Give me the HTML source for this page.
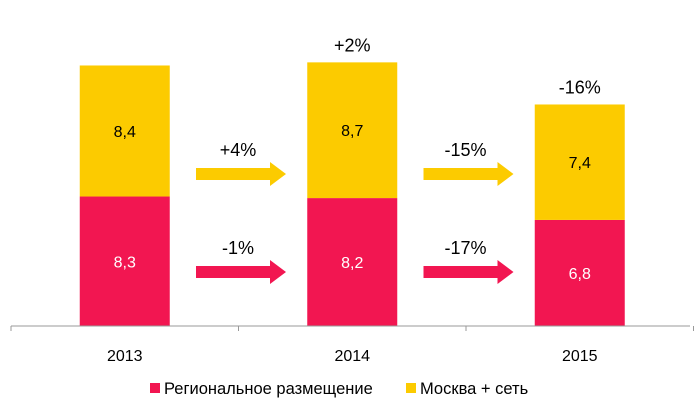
<!DOCTYPE html>
<html><head><meta charset="utf-8"><style>
body{margin:0;background:#fff;}
svg text{font-family:"Liberation Sans",sans-serif;}
</style></head><body>
<svg width="700" height="412">
<g id="g"></g>
</svg>
<script>
const categories=["2013","2014","2015"];
const regional=[8.3,8.2,6.8];
const moscow=[8.4,8.7,7.4];
const totalChange=["","+2%","-16%"];
const moscowChange=["+4%","-15%"];
const regionalChange=["-1%","-17%"];
const NS="http://www.w3.org/2000/svg";
const g=document.getElementById('g');
const base=326,unit=15.6,left=11,catW=227.5,barW=90;
function y(v){return base-v*unit;}
function cx(i){return left+catW*i+catW/2;}
function mk(t,a,p){const e=document.createElementNS(NS,t);for(const k in a)e.setAttribute(k,a[k]);(p||g).appendChild(e);return e;}
function txt(x,yy,s,size,fill){const e=mk('text',{x:x,y:yy,'text-anchor':'middle','font-size':size,fill:fill});e.textContent=s;return e;}
categories.forEach((c,i)=>{
 const x=cx(i)-barW/2;
 const r=mk('rect',{x:x,y:y(regional[i]),width:barW,height:regional[i]*unit,fill:'#f21651'});
 
 
 const m=mk('rect',{x:x,y:y(regional[i]+moscow[i]),width:barW,height:moscow[i]*unit,fill:'#fccb00'});
 
 
 const t1=txt(cx(i),y(regional[i]/2)+6,String(regional[i]).replace('.',','),16,'#fff');
 
 
 const t2=txt(cx(i),y(regional[i]+moscow[i]/2)+6,String(moscow[i]).replace('.',','),16,'#000');
 
 
 const cl=txt(cx(i),361,c,16,'#000');
 
 
 if(totalChange[i]){const tc=txt(cx(i),y(regional[i]+moscow[i])-11,totalChange[i],18,'#000');
 
 }
});
mk('line',{x1:left,y1:base,x2:690,y2:base,stroke:'#999'});
for(let i=0;i<=3;i++)mk('line',{x1:left+catW*i,y1:base,x2:left+catW*i,y2:base+5,stroke:'#999'});
function arrow(x0,yc,col,lab,name){
 const p=mk('path',{d:`M${x0} ${yc-6}H${x0+74}V${yc-12}L${x0+90} ${yc}L${x0+74} ${yc+12}V${yc+6}H${x0}Z`,fill:col});
 
 
 const t=txt(x0+42,yc-18,lab,18,'#000');
 
 
}
moscowChange.forEach((l,i)=>arrow(196+catW*i,174,'#fccb00',l,'moscow-change-'+i));
regionalChange.forEach((l,i)=>arrow(196+catW*i,272,'#f21651',l,'regional-change-'+i));
const l1=mk('rect',{x:150,y:383,width:10,height:10,fill:'#f21651'});


const lt1=mk('text',{x:164,y:394,'font-size':16.5});lt1.textContent='Региональное размещение';


const l2=mk('rect',{x:406,y:383,width:10,height:10,fill:'#fccb00'});


const lt2=mk('text',{x:420,y:394,'font-size':16.5});lt2.textContent='Москва + сеть';


</script>
</body></html>
